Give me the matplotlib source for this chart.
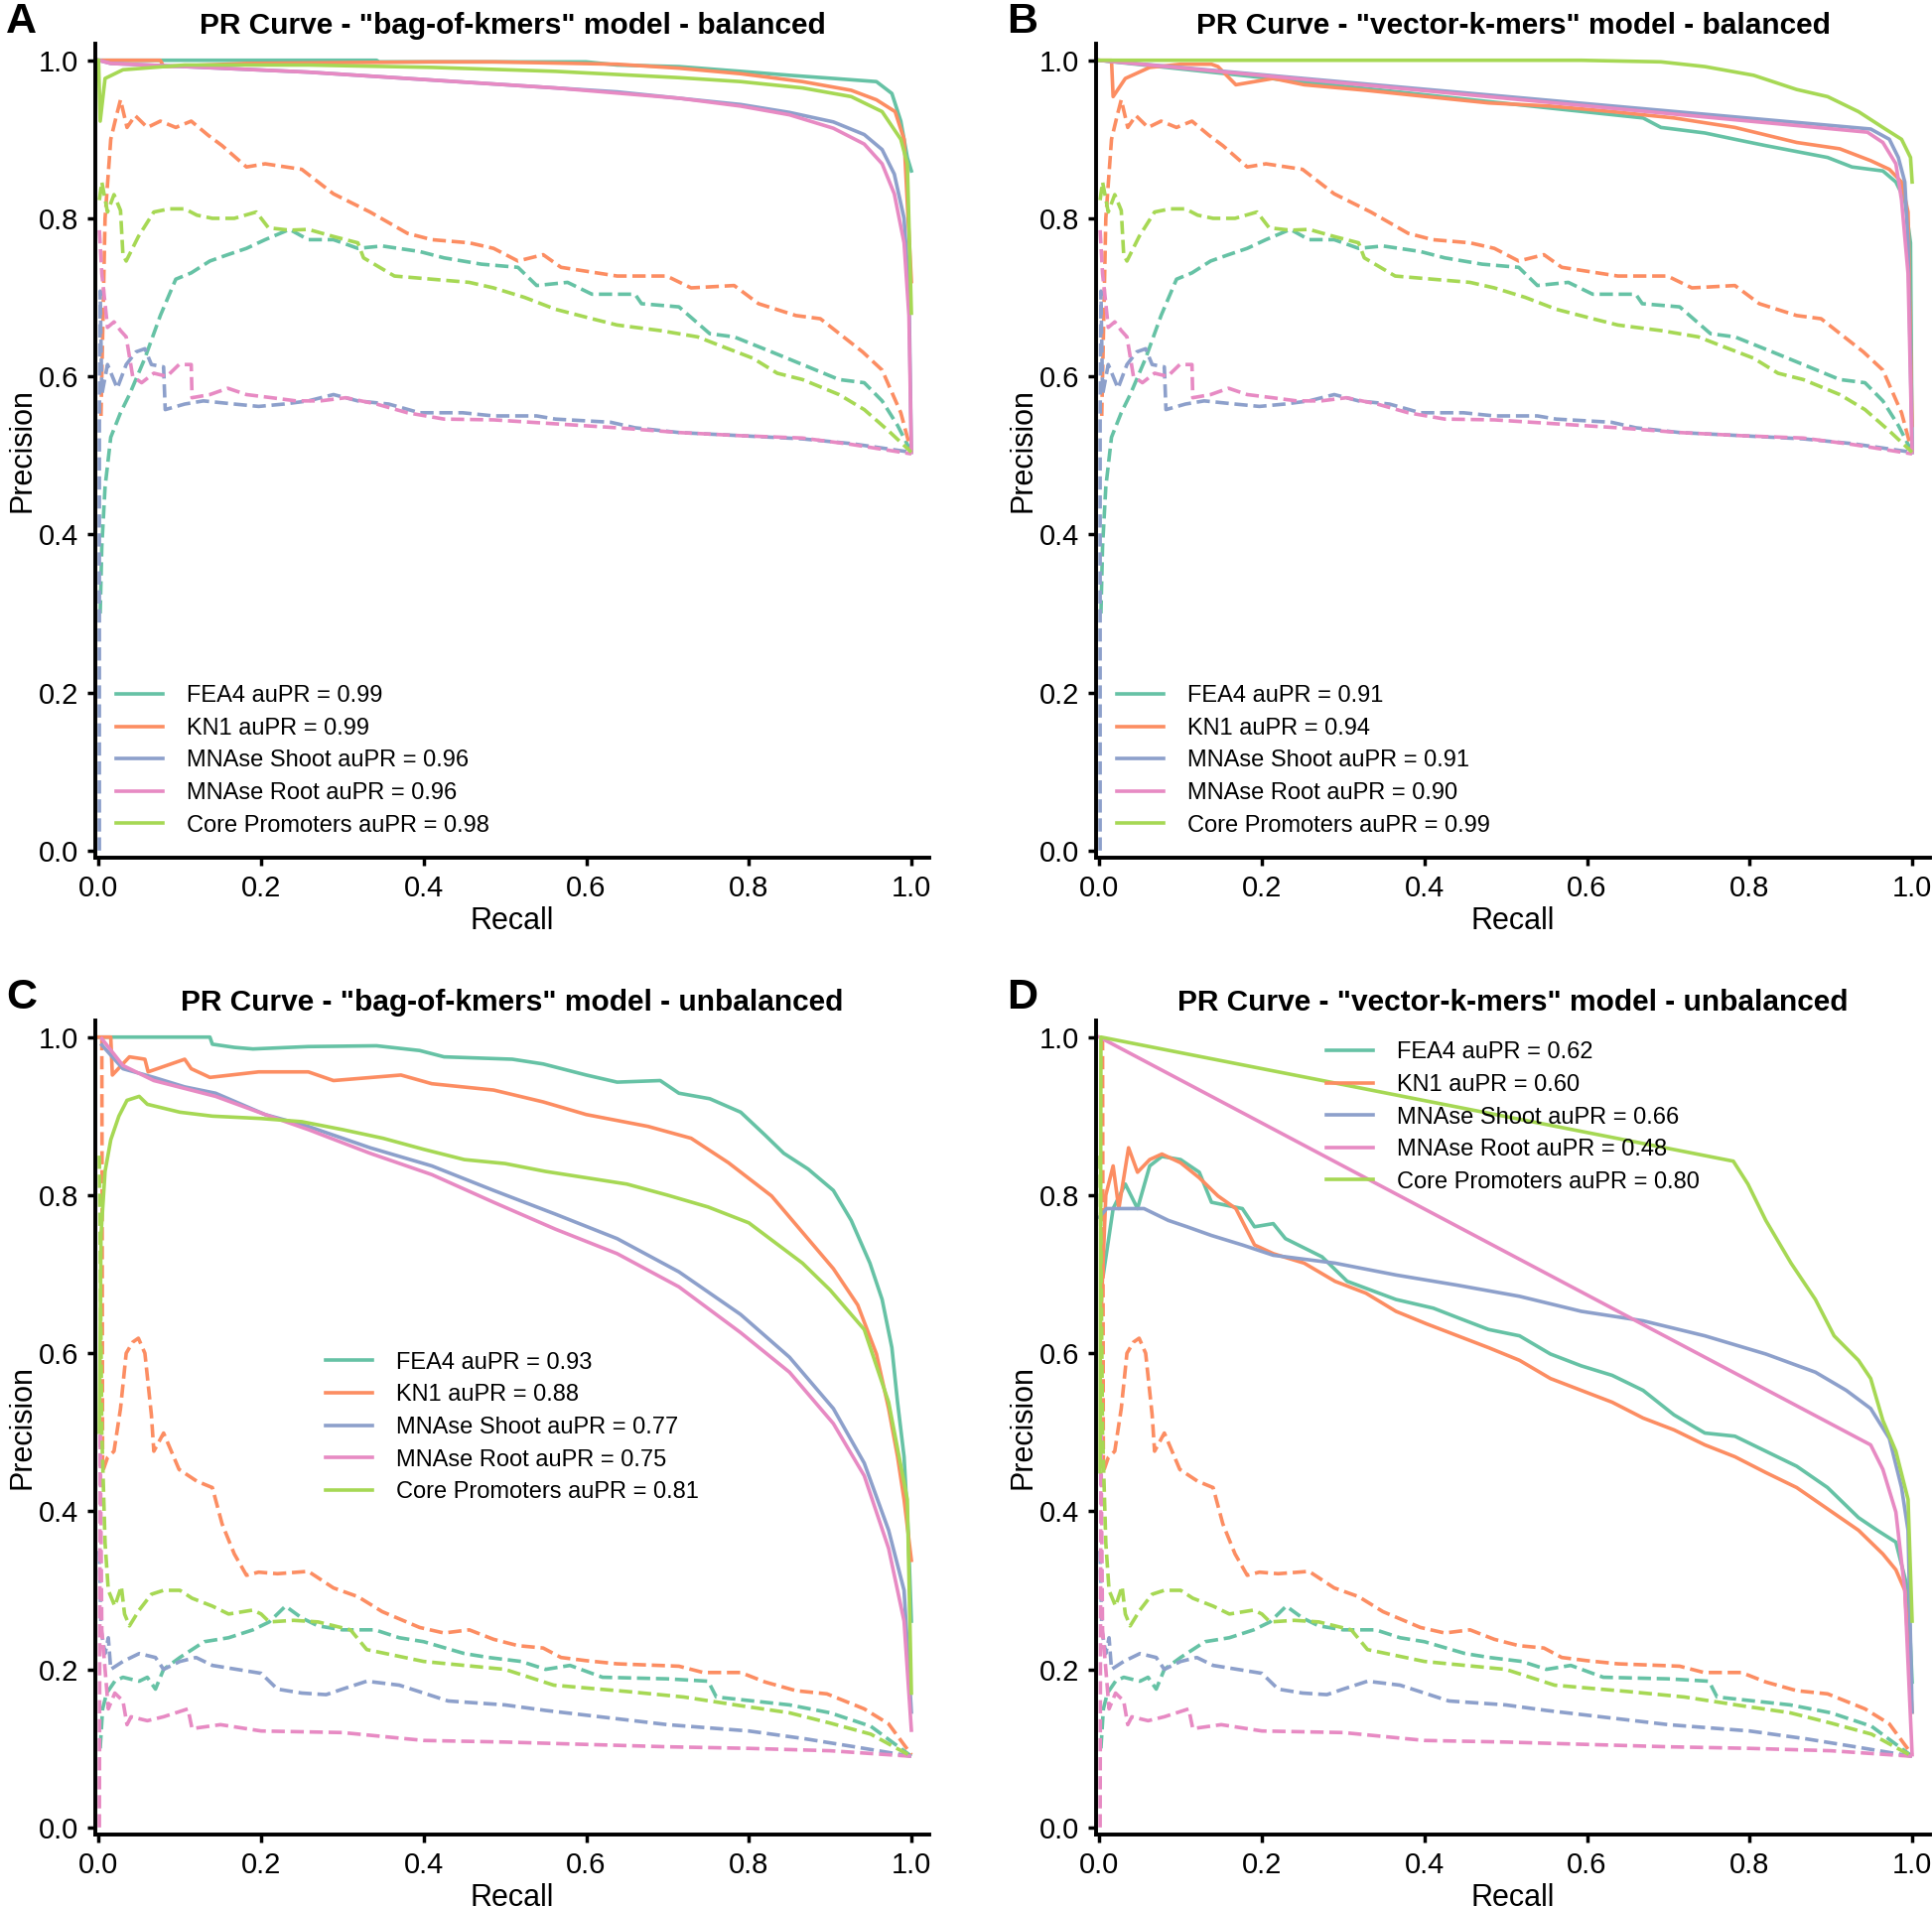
import matplotlib
matplotlib.use("Agg")
import matplotlib.pyplot as plt

plt.rcParams["font.family"] = ["Liberation Sans", "DejaVu Sans"]

# Colours of the five data sets (seaborn Set2)
colors = ["#66c2a5", "#fc8d62", "#8da0cb", "#e78ac3", "#a6d854"]
names = ["FEA4", "KN1", "MNAse Shoot", "MNAse Root", "Core Promoters"]

panel_titles = [
    'PR Curve - "bag-of-kmers" model - balanced',
    'PR Curve - "vector-k-mers" model - balanced',
    'PR Curve - "bag-of-kmers" model - unbalanced',
    'PR Curve - "vector-k-mers" model - unbalanced',
]
panel_letters = ["A", "B", "C", "D"]

aupr_bag_bal = [0.99, 0.99, 0.96, 0.96, 0.98]
aupr_vec_bal = [0.91, 0.94, 0.91, 0.90, 0.99]
aupr_bag_unbal = [0.93, 0.88, 0.77, 0.75, 0.81]
aupr_vec_unbal = [0.62, 0.60, 0.66, 0.48, 0.80]

# ---------------- dashed curves, balanced (same in A and B) ----------------
base_bal_fea4_r = [0.002, 0.004, 0.008, 0.015, 0.027, 0.038, 0.057, 0.076, 0.095, 0.114, 0.137, 0.159, 0.182, 0.205, 0.235, 0.258, 0.289, 0.319, 0.349, 0.395, 0.425, 0.471, 0.516, 0.539, 0.577, 0.607, 0.66, 0.668, 0.714, 0.752, 0.782, 0.828, 0.866, 0.911, 0.942, 0.964, 0.983, 1.0]
base_bal_fea4_p = [0.30, 0.385, 0.46, 0.523, 0.554, 0.577, 0.623, 0.677, 0.723, 0.731, 0.746, 0.754, 0.762, 0.773, 0.786, 0.773, 0.773, 0.762, 0.765, 0.758, 0.75, 0.742, 0.738, 0.715, 0.719, 0.704, 0.704, 0.692, 0.688, 0.654, 0.65, 0.631, 0.615, 0.596, 0.592, 0.569, 0.538, 0.504]

base_bal_kn1_r = [0.003, 0.008, 0.015, 0.022, 0.027, 0.035, 0.045, 0.06, 0.076, 0.095, 0.114, 0.135, 0.152, 0.182, 0.205, 0.25, 0.289, 0.334, 0.38, 0.41, 0.456, 0.486, 0.516, 0.547, 0.569, 0.638, 0.699, 0.729, 0.782, 0.812, 0.858, 0.888, 0.94, 0.964, 0.987, 1.0]
base_bal_kn1_p = [0.55, 0.80, 0.90, 0.93, 0.95, 0.915, 0.93, 0.915, 0.923, 0.915, 0.923, 0.905, 0.892, 0.865, 0.869, 0.862, 0.831, 0.808, 0.781, 0.773, 0.769, 0.762, 0.746, 0.754, 0.738, 0.727, 0.727, 0.712, 0.715, 0.692, 0.677, 0.673, 0.631, 0.608, 0.554, 0.504]

base_bal_shoot_r = [0.001, 0.001, 0.002, 0.004, 0.011, 0.023, 0.034, 0.046, 0.057, 0.065, 0.08, 0.082, 0.106, 0.129, 0.167, 0.197, 0.228, 0.258, 0.289, 0.319, 0.357, 0.395, 0.448, 0.486, 0.539, 0.562, 0.63, 0.66, 0.714, 0.79, 0.866, 0.926, 1.0]
base_bal_shoot_p = [0.0, 0.54, 0.708, 0.577, 0.615, 0.585, 0.615, 0.631, 0.635, 0.615, 0.612, 0.558, 0.565, 0.569, 0.565, 0.562, 0.565, 0.569, 0.577, 0.569, 0.565, 0.554, 0.554, 0.55, 0.55, 0.546, 0.542, 0.535, 0.529, 0.525, 0.521, 0.515, 0.504]

base_bal_root_r = [0.001, 0.004, 0.008, 0.011, 0.019, 0.027, 0.034, 0.042, 0.053, 0.068, 0.084, 0.099, 0.114, 0.115, 0.137, 0.159, 0.182, 0.213, 0.243, 0.273, 0.304, 0.342, 0.38, 0.425, 0.486, 0.547, 0.638, 0.714, 0.79, 0.866, 0.926, 1.0]
base_bal_root_p = [0.785, 0.73, 0.692, 0.662, 0.669, 0.658, 0.65, 0.60, 0.592, 0.604, 0.60, 0.615, 0.615, 0.573, 0.577, 0.585, 0.577, 0.573, 0.569, 0.569, 0.573, 0.565, 0.554, 0.546, 0.545, 0.541, 0.535, 0.529, 0.525, 0.522, 0.514, 0.502]

base_bal_core_r = [0.001, 0.004, 0.011, 0.019, 0.027, 0.03, 0.034, 0.049, 0.068, 0.087, 0.106, 0.121, 0.14, 0.167, 0.194, 0.209, 0.235, 0.258, 0.289, 0.319, 0.326, 0.364, 0.41, 0.456, 0.486, 0.524, 0.562, 0.607, 0.638, 0.691, 0.737, 0.767, 0.805, 0.835, 0.866, 0.911, 0.942, 0.972, 1.0]
base_bal_core_p = [0.823, 0.846, 0.808, 0.83, 0.81, 0.754, 0.746, 0.777, 0.808, 0.812, 0.812, 0.804, 0.80, 0.80, 0.808, 0.788, 0.785, 0.786, 0.777, 0.769, 0.75, 0.727, 0.723, 0.719, 0.712, 0.70, 0.685, 0.673, 0.665, 0.658, 0.65, 0.638, 0.623, 0.604, 0.596, 0.577, 0.558, 0.531, 0.504]

# ---------------- dashed curves, unbalanced (same in C and D) ----------------
base_unb_fea4_r = [0.002, 0.005, 0.01, 0.02, 0.03, 0.05, 0.06, 0.07, 0.08, 0.1, 0.13, 0.16, 0.19, 0.21, 0.23, 0.25, 0.27, 0.3, 0.34, 0.37, 0.4, 0.45, 0.48, 0.52, 0.55, 0.58, 0.62, 0.7, 0.75, 0.76, 0.85, 0.9, 0.95, 1.0]
base_unb_fea4_p = [0.10, 0.15, 0.17, 0.185, 0.19, 0.185, 0.19, 0.175, 0.20, 0.215, 0.235, 0.24, 0.25, 0.26, 0.28, 0.265, 0.255, 0.25, 0.25, 0.24, 0.235, 0.22, 0.215, 0.21, 0.20, 0.205, 0.19, 0.188, 0.185, 0.165, 0.155, 0.145, 0.128, 0.09]

base_unb_kn1_r = [0.004, 0.005, 0.011, 0.019, 0.027, 0.034, 0.042, 0.049, 0.057, 0.065, 0.068, 0.08, 0.099, 0.121, 0.14, 0.152, 0.167, 0.182, 0.197, 0.22, 0.258, 0.289, 0.319, 0.349, 0.395, 0.425, 0.456, 0.486, 0.516, 0.547, 0.569, 0.6, 0.638, 0.714, 0.744, 0.79, 0.82, 0.858, 0.896, 0.942, 0.972, 1.0]
base_unb_kn1_p = [1.0, 0.45, 0.468, 0.476, 0.53, 0.60, 0.614, 0.619, 0.60, 0.522, 0.476, 0.499, 0.453, 0.438, 0.43, 0.384, 0.346, 0.319, 0.323, 0.321, 0.324, 0.303, 0.292, 0.273, 0.253, 0.246, 0.25, 0.238, 0.23, 0.227, 0.215, 0.211, 0.207, 0.204, 0.196, 0.196, 0.184, 0.173, 0.169, 0.15, 0.131, 0.092]

base_unb_shoot_r = [0.001, 0.003, 0.008, 0.012, 0.015, 0.03, 0.05, 0.07, 0.08, 0.1, 0.12, 0.14, 0.2, 0.22, 0.25, 0.28, 0.3, 0.33, 0.37, 0.4, 0.43, 0.5, 0.55, 0.6, 0.7, 0.8, 0.87, 0.93, 1.0]
base_unb_shoot_p = [0.35, 0.25, 0.22, 0.24, 0.20, 0.21, 0.22, 0.215, 0.20, 0.21, 0.215, 0.205, 0.195, 0.175, 0.17, 0.168, 0.175, 0.185, 0.18, 0.17, 0.16, 0.155, 0.148, 0.142, 0.13, 0.122, 0.112, 0.102, 0.09]

base_unb_root_r = [0.001, 0.002, 0.004, 0.008, 0.012, 0.02, 0.03, 0.035, 0.04, 0.06, 0.08, 0.11, 0.115, 0.15, 0.2, 0.3, 0.35, 0.4, 0.5, 0.6, 0.7, 0.8, 0.9, 1.0]
base_unb_root_p = [0.0, 0.50, 0.25, 0.20, 0.15, 0.17, 0.16, 0.13, 0.14, 0.135, 0.14, 0.15, 0.125, 0.13, 0.122, 0.12, 0.115, 0.11, 0.108, 0.105, 0.102, 0.10, 0.097, 0.09]

base_unb_core_r = [0.001, 0.004, 0.008, 0.012, 0.02, 0.028, 0.032, 0.038, 0.05, 0.065, 0.08, 0.1, 0.115, 0.14, 0.16, 0.19, 0.2, 0.21, 0.24, 0.27, 0.31, 0.33, 0.4, 0.5, 0.56, 0.65, 0.72, 0.79, 0.85, 0.9, 0.95, 1.0]
base_unb_core_p = [0.85, 0.50, 0.36, 0.30, 0.28, 0.305, 0.27, 0.255, 0.275, 0.295, 0.30, 0.30, 0.29, 0.28, 0.27, 0.275, 0.27, 0.26, 0.262, 0.26, 0.25, 0.225, 0.21, 0.20, 0.18, 0.172, 0.165, 0.154, 0.145, 0.132, 0.118, 0.09]

# ---------------- solid curves, panel A (bag-of-kmers, balanced) ----------------
bag_bal_fea4_r = [0.0, 0.342, 0.345, 0.6, 0.638, 0.714, 0.79, 0.85, 0.904, 0.957, 0.976, 0.987, 0.995, 1.0]
bag_bal_fea4_p = [1.0, 1.0, 0.998, 0.998, 0.994, 0.992, 0.986, 0.981, 0.977, 0.973, 0.958, 0.923, 0.877, 0.86]

bag_bal_kn1_r = [0.0, 0.076, 0.08, 0.182, 0.41, 0.486, 0.638, 0.714, 0.79, 0.866, 0.926, 0.957, 0.98, 0.991, 1.0]
bag_bal_kn1_p = [1.0, 1.0, 0.992, 0.996, 0.998, 0.998, 0.995, 0.99, 0.983, 0.973, 0.962, 0.95, 0.935, 0.90, 0.72]

bag_bal_shoot_r = [0.0, 0.015, 0.106, 0.258, 0.41, 0.562, 0.638, 0.714, 0.79, 0.85, 0.904, 0.942, 0.964, 0.979, 0.991, 0.997, 1.0]
bag_bal_shoot_p = [1.0, 0.996, 0.992, 0.985, 0.975, 0.965, 0.96, 0.952, 0.944, 0.934, 0.922, 0.906, 0.887, 0.856, 0.80, 0.708, 0.504]

bag_bal_root_r = [0.0, 0.015, 0.106, 0.258, 0.41, 0.562, 0.714, 0.79, 0.85, 0.904, 0.942, 0.964, 0.979, 0.991, 0.997, 1.0]
bag_bal_root_p = [1.0, 0.996, 0.992, 0.985, 0.975, 0.965, 0.952, 0.942, 0.931, 0.914, 0.894, 0.869, 0.831, 0.769, 0.677, 0.504]

bag_bal_core_r = [0.0, 0.002, 0.008, 0.03, 0.106, 0.258, 0.41, 0.562, 0.714, 0.79, 0.866, 0.926, 0.964, 0.987, 0.995, 1.0]
bag_bal_core_p = [1.0, 0.923, 0.977, 0.988, 0.994, 0.994, 0.991, 0.986, 0.978, 0.973, 0.965, 0.954, 0.935, 0.90, 0.869, 0.68]

# ---------------- solid curves, panel B (vector-k-mers, balanced) ----------------
vec_bal_fea4_r = [0.0, 0.669, 0.691, 0.745, 0.782, 0.82, 0.896, 0.926, 0.964, 0.98, 0.991, 0.998, 1.0]
vec_bal_fea4_p = [1.0, 0.927, 0.915, 0.908, 0.90, 0.892, 0.877, 0.865, 0.86, 0.846, 0.823, 0.769, 0.504]

vec_bal_kn1_r = [0.0, 0.015, 0.017, 0.032, 0.062, 0.1, 0.138, 0.146, 0.168, 0.214, 0.252, 0.328, 0.403, 0.479, 0.555, 0.631, 0.707, 0.782, 0.858, 0.911, 0.949, 0.972, 0.987, 0.995, 1.0]
vec_bal_kn1_p = [1.0, 1.0, 0.954, 0.977, 0.991, 0.995, 0.995, 0.992, 0.969, 0.977, 0.969, 0.962, 0.954, 0.946, 0.942, 0.935, 0.927, 0.915, 0.896, 0.888, 0.873, 0.862, 0.846, 0.808, 0.538]

vec_bal_shoot_r = [0.0, 0.949, 0.972, 0.983, 0.991, 0.995, 0.998, 1.0]
vec_bal_shoot_p = [1.0, 0.913, 0.90, 0.877, 0.846, 0.769, 0.615, 0.504]

vec_bal_root_r = [0.0, 0.945, 0.964, 0.98, 0.987, 0.995, 1.0]
vec_bal_root_p = [1.0, 0.909, 0.896, 0.869, 0.823, 0.73, 0.504]

vec_bal_core_r = [0.0, 0.593, 0.691, 0.745, 0.805, 0.858, 0.896, 0.934, 0.964, 0.987, 0.998, 1.0]
vec_bal_core_p = [1.0, 1.0, 0.998, 0.992, 0.981, 0.963, 0.954, 0.935, 0.915, 0.90, 0.877, 0.846]

# ---------------- solid curves, panel C (bag-of-kmers, unbalanced) ----------------
bag_unb_fea4_r = [0.0, 0.137, 0.14, 0.167, 0.19, 0.258, 0.342, 0.395, 0.425, 0.509, 0.547, 0.6, 0.638, 0.691, 0.714, 0.752, 0.79, 0.82, 0.843, 0.873, 0.904, 0.926, 0.949, 0.964, 0.976, 0.983, 0.991, 0.996, 1.0]
bag_unb_fea4_p = [1.0, 1.0, 0.991, 0.987, 0.985, 0.988, 0.989, 0.983, 0.975, 0.972, 0.966, 0.952, 0.943, 0.945, 0.929, 0.922, 0.905, 0.876, 0.853, 0.833, 0.806, 0.768, 0.714, 0.668, 0.607, 0.538, 0.469, 0.376, 0.261]

bag_unb_kn1_r = [0.0, 0.015, 0.017, 0.038, 0.057, 0.061, 0.106, 0.114, 0.137, 0.197, 0.258, 0.289, 0.372, 0.41, 0.486, 0.547, 0.6, 0.676, 0.729, 0.775, 0.828, 0.866, 0.904, 0.934, 0.957, 0.972, 0.983, 0.991, 1.0]
bag_unb_kn1_p = [1.0, 1.0, 0.952, 0.975, 0.972, 0.956, 0.972, 0.96, 0.949, 0.956, 0.956, 0.945, 0.952, 0.941, 0.933, 0.918, 0.902, 0.887, 0.872, 0.841, 0.799, 0.753, 0.707, 0.661, 0.599, 0.53, 0.469, 0.415, 0.338]

bag_unb_shoot_r = [0.004, 0.03, 0.068, 0.106, 0.144, 0.205, 0.258, 0.334, 0.41, 0.486, 0.562, 0.638, 0.714, 0.79, 0.85, 0.904, 0.942, 0.972, 0.991, 1.0]
bag_unb_shoot_p = [0.99, 0.96, 0.949, 0.937, 0.929, 0.902, 0.887, 0.86, 0.837, 0.806, 0.776, 0.745, 0.703, 0.649, 0.595, 0.53, 0.461, 0.376, 0.30, 0.146]

bag_unb_root_r = [0.004, 0.03, 0.068, 0.106, 0.144, 0.205, 0.258, 0.334, 0.41, 0.486, 0.562, 0.638, 0.714, 0.79, 0.85, 0.904, 0.942, 0.972, 0.991, 1.0]
bag_unb_root_p = [0.998, 0.964, 0.945, 0.935, 0.925, 0.902, 0.883, 0.853, 0.826, 0.791, 0.757, 0.726, 0.684, 0.626, 0.576, 0.511, 0.445, 0.353, 0.261, 0.123]

bag_unb_core_r = [0.001, 0.003, 0.008, 0.015, 0.025, 0.035, 0.05, 0.06, 0.08, 0.1, 0.14, 0.2, 0.25, 0.3, 0.35, 0.4, 0.45, 0.5, 0.55, 0.6, 0.65, 0.7, 0.75, 0.8, 0.866, 0.9, 0.942, 0.972, 0.995, 1.0]
bag_unb_core_p = [0.50, 0.75, 0.83, 0.87, 0.90, 0.92, 0.925, 0.915, 0.91, 0.905, 0.90, 0.897, 0.893, 0.883, 0.872, 0.858, 0.845, 0.84, 0.83, 0.822, 0.814, 0.80, 0.785, 0.765, 0.714, 0.68, 0.63, 0.538, 0.415, 0.17]

# ---------------- solid curves, panel D (vector-k-mers, unbalanced) ----------------
vec_unb_fea4_r = [0.005, 0.017, 0.032, 0.047, 0.062, 0.077, 0.1, 0.123, 0.138, 0.176, 0.191, 0.214, 0.229, 0.274, 0.305, 0.365, 0.411, 0.441, 0.479, 0.517, 0.555, 0.593, 0.631, 0.669, 0.707, 0.745, 0.782, 0.82, 0.858, 0.896, 0.934, 0.957, 0.98, 0.995, 1.0]
vec_unb_fea4_p = [0.70, 0.783, 0.814, 0.783, 0.837, 0.849, 0.845, 0.829, 0.791, 0.783, 0.76, 0.764, 0.745, 0.722, 0.691, 0.668, 0.657, 0.645, 0.63, 0.622, 0.599, 0.584, 0.572, 0.553, 0.522, 0.499, 0.495, 0.476, 0.457, 0.43, 0.392, 0.376, 0.361, 0.30, 0.184]

vec_unb_kn1_r = [0.002, 0.008, 0.017, 0.024, 0.036, 0.047, 0.062, 0.077, 0.1, 0.123, 0.146, 0.168, 0.191, 0.214, 0.252, 0.29, 0.328, 0.365, 0.403, 0.441, 0.479, 0.517, 0.555, 0.593, 0.631, 0.669, 0.707, 0.745, 0.782, 0.82, 0.858, 0.896, 0.934, 0.964, 0.98, 0.991, 1.0]
vec_unb_kn1_p = [0.645, 0.80, 0.837, 0.783, 0.86, 0.829, 0.845, 0.852, 0.841, 0.822, 0.799, 0.783, 0.737, 0.726, 0.714, 0.691, 0.676, 0.653, 0.637, 0.622, 0.607, 0.591, 0.568, 0.553, 0.538, 0.518, 0.503, 0.484, 0.469, 0.449, 0.43, 0.403, 0.376, 0.346, 0.326, 0.30, 0.146]

vec_unb_shoot_r = [0.0, 0.009, 0.032, 0.055, 0.085, 0.108, 0.138, 0.176, 0.214, 0.29, 0.365, 0.441, 0.517, 0.593, 0.669, 0.745, 0.82, 0.881, 0.919, 0.949, 0.972, 0.987, 0.995, 1.0]
vec_unb_shoot_p = [0.772, 0.783, 0.783, 0.783, 0.768, 0.76, 0.749, 0.737, 0.724, 0.714, 0.699, 0.686, 0.672, 0.653, 0.641, 0.622, 0.599, 0.576, 0.553, 0.53, 0.492, 0.43, 0.376, 0.146]

vec_unb_root_r = [0.0, 0.949, 0.964, 0.98, 0.991, 1.0]
vec_unb_root_p = [1.0, 0.484, 0.453, 0.399, 0.30, 0.092]

vec_unb_core_r = [0.001, 0.002, 0.78, 0.798, 0.82, 0.851, 0.881, 0.904, 0.934, 0.949, 0.964, 0.98, 0.995, 1.0]
vec_unb_core_p = [0.45, 1.0, 0.843, 0.814, 0.768, 0.714, 0.668, 0.622, 0.591, 0.568, 0.515, 0.476, 0.415, 0.261]

# ---------------- group the curves for each panel ----------------
base_bal = [(base_bal_fea4_r, base_bal_fea4_p), (base_bal_kn1_r, base_bal_kn1_p),
            (base_bal_shoot_r, base_bal_shoot_p), (base_bal_root_r, base_bal_root_p),
            (base_bal_core_r, base_bal_core_p)]
base_unb = [(base_unb_fea4_r, base_unb_fea4_p), (base_unb_kn1_r, base_unb_kn1_p),
            (base_unb_shoot_r, base_unb_shoot_p), (base_unb_root_r, base_unb_root_p),
            (base_unb_core_r, base_unb_core_p)]
solid_a = [(bag_bal_fea4_r, bag_bal_fea4_p), (bag_bal_kn1_r, bag_bal_kn1_p),
           (bag_bal_shoot_r, bag_bal_shoot_p), (bag_bal_root_r, bag_bal_root_p),
           (bag_bal_core_r, bag_bal_core_p)]
solid_b = [(vec_bal_fea4_r, vec_bal_fea4_p), (vec_bal_kn1_r, vec_bal_kn1_p),
           (vec_bal_shoot_r, vec_bal_shoot_p), (vec_bal_root_r, vec_bal_root_p),
           (vec_bal_core_r, vec_bal_core_p)]
solid_c = [(bag_unb_fea4_r, bag_unb_fea4_p), (bag_unb_kn1_r, bag_unb_kn1_p),
           (bag_unb_shoot_r, bag_unb_shoot_p), (bag_unb_root_r, bag_unb_root_p),
           (bag_unb_core_r, bag_unb_core_p)]
solid_d = [(vec_unb_fea4_r, vec_unb_fea4_p), (vec_unb_kn1_r, vec_unb_kn1_p),
           (vec_unb_shoot_r, vec_unb_shoot_p), (vec_unb_root_r, vec_unb_root_p),
           (vec_unb_core_r, vec_unb_core_p)]

panels = [
    (solid_a, base_bal, aupr_bag_bal, "lower left"),
    (solid_b, base_bal, aupr_vec_bal, "lower left"),
    (solid_c, base_unb, aupr_bag_unbal, "center"),
    (solid_d, base_unb, aupr_vec_unbal, "upper center"),
]

W, H = 1946, 1920
fig = plt.figure(figsize=(W / 100, H / 100), dpi=100)

# axes boxes in pixels: left, top, width, height
boxes = [(96, 44, 840, 820), (1104, 44, 840, 820),
         (96, 1028, 840, 820), (1104, 1028, 840, 820)]

for i, (solid, dashed, aupr, loc) in enumerate(panels):
    left, top, w, h = boxes[i]
    ax = fig.add_axes([left / W, 1 - (top + h) / H, w / W, h / H])

    for k in range(5):
        ax.plot(solid[k][0], solid[k][1], color=colors[k], lw=2.6,
                label=f"{names[k]} auPR = {aupr[k]:.2f}")
        ax.plot(dashed[k][0], dashed[k][1], color=colors[k], lw=2.6, ls="--")

    ax.set_xlim(-0.004, 1.022)
    ax.set_ylim(-0.009, 1.021)
    ax.set_xticks([0.0, 0.2, 0.4, 0.6, 0.8, 1.0])
    ax.set_yticks([0.0, 0.2, 0.4, 0.6, 0.8, 1.0])
    ax.set_xticklabels(["0.0", "0.2", "0.4", "0.6", "0.8", "1.0"])
    ax.set_yticklabels(["0.0", "0.2", "0.4", "0.6", "0.8", "1.0"])
    ax.tick_params(labelsize=21, width=2.5, length=6, pad=6)

    for side in ["top", "right"]:
        ax.spines[side].set_visible(False)
    for side in ["left", "bottom"]:
        ax.spines[side].set_linewidth(2.8)

    ax.set_xlabel("Recall", fontsize=22, labelpad=3)
    ax.set_ylabel("Precision", fontsize=22, labelpad=1)
    ax.set_title(panel_titles[i], fontsize=21.5, fontweight="bold", pad=7)

    ax.legend(loc=loc, frameon=False, fontsize=17, labelspacing=0.45,
              handlelength=2.0, handletextpad=1.0)

    # panel letter
    fig.text((left - 90) / W, 1 - 2 / H if i < 2 else 1 - 985 / H,
             panel_letters[i], fontsize=31, fontweight="bold", va="top", ha="left")

fig.savefig("out.png", dpi=100)
